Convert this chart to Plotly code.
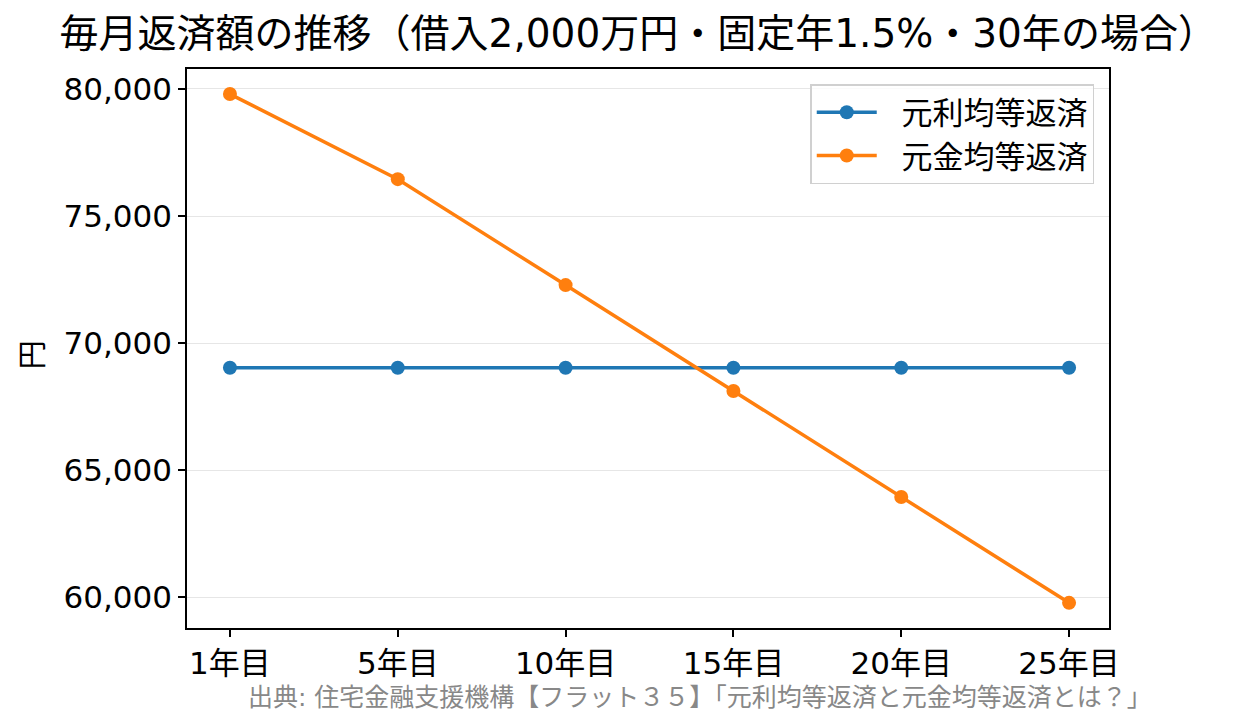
import plotly.graph_objects as go

# 返済年ごとの毎月返済額（円）
years = ['1年目', '5年目', '10年目', '15年目', '20年目', '25年目']
ganri = [69024, 69024, 69024, 69024, 69024, 69024]
gankin = [79800, 76450, 72280, 68110, 63940, 59770]
yticks = [60000, 65000, 70000, 75000, 80000]

FONT = 'DejaVu Sans, Noto Sans CJK JP'
PAD = '\u00a0\u00a0'  # 凡例の線と文字の間を少し空ける

fig = go.Figure()
fig.add_trace(go.Scatter(x=years, y=ganri, name=PAD + '元利均等返済', mode='lines+markers',
                         line=dict(color='#1f77b4', width=3.5), marker=dict(size=14)))
fig.add_trace(go.Scatter(x=years, y=gankin, name=PAD + '元金均等返済', mode='lines+markers',
                         line=dict(color='#ff7f0e', width=3.5), marker=dict(size=14)))

fig.update_layout(
    width=1253, height=725,
    paper_bgcolor='white', plot_bgcolor='white',
    font=dict(family=FONT, color='black'),
    margin=dict(l=179, r=152, t=61, b=105),
    title=dict(text='毎月返済額の推移（借入2,000万円・固定年1.5%・30年の場合）',
               x=0.503, xanchor='center', y=0.965, yanchor='middle',
               font=dict(size=39)),
    legend=dict(x=0.984, y=0.973, xanchor='right', yanchor='top',
                bgcolor='rgba(255,255,255,0.8)', bordercolor='#d0d0d0', borderwidth=1.5,
                font=dict(size=31), itemwidth=60, tracegroupgap=0),
    showlegend=True,
)
fig.update_xaxes(type='category', range=[-0.256, 5.238],
                 showline=True, linecolor='black', linewidth=1.5, mirror=True,
                 ticks='outside', ticklen=7, tickcolor='black', tickwidth=1.5,
                 tickfont=dict(size=31), showgrid=False)
fig.update_yaxes(range=[58780, 80787], tickvals=yticks,
                 ticktext=[f'{v:,}' for v in yticks],
                 showline=True, linecolor='black', linewidth=1.5, mirror=True,
                 ticks='outside', ticklen=7, tickcolor='black', tickwidth=1.5,
                 tickfont=dict(size=31), showgrid=True, gridcolor='#e6e6e6',
                 zeroline=False)

fig.add_annotation(text='円', xref='paper', yref='paper', x=-0.167, y=0.488,
                   xanchor='center', yanchor='middle', showarrow=False,
                   textangle=-90, font=dict(size=29))
fig.add_annotation(text='出典: 住宅金融支援機構【フラット３５】「元利均等返済と元金均等返済とは？」',
                   xref='paper', yref='paper', x=0.556, y=-0.125,
                   xanchor='center', yanchor='middle', showarrow=False,
                   font=dict(size=25, color='#888888'))

fig.write_html('out.html')
